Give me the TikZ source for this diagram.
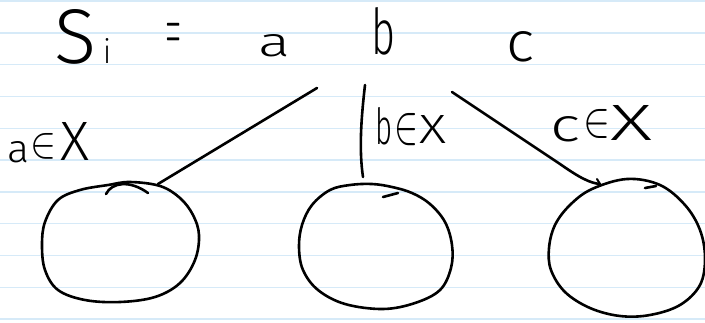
\documentclass[tikz,border=0pt]{standalone}
\usepackage{fontspec}
\newfontfamily\handfont{Fira Sans Light}
\definecolor{ruleblue}{RGB}{214,234,248}
\newcommand{\handch}[3]{\resizebox{#1pt}{#2pt}{\handfont #3}}
\tikzset{
  ink/.style={line width=2.6pt, line cap=round, line join=round, black},
  ruling/.style={ruleblue, line width=1.4pt},
  glyph/.style={anchor=south west, inner sep=0pt, outer sep=0pt},
  elem/.style={anchor=center, inner sep=0pt, outer sep=0pt}
}
\begin{document}
\begin{tikzpicture}[x=1pt,y=-1pt]
\fill[white] (0,0) rectangle (705,322);
\useasboundingbox (0,0) rectangle (705,322);
\foreach \k in {0,...,10} \draw[ruling] (0,{1+31.8*\k}) -- (705,{1+31.8*\k});

% top line  S_i = a b c
\node[glyph] (S) at (54,64) {\handch{42}{54}{S}};
\node[glyph] (i) at (103,63) {\handch{8}{25}{i}};
\node[anchor=base, inner sep=0pt] (eq) at (174,52.5) {\scalebox{0.24}[1]{\fontsize{82}{82}\selectfont =}};
\node[glyph] (ta) at (258,57) {\handch{32}{22}{a}};
\node[glyph] (tb) at (371,55) {\handch{24}{47}{b}};
\node[glyph] (tc) at (506,62) {\handch{28}{30}{c}};

% labels
\node[glyph] (la) at (8,163) {\handch{22}{21}{a}};
\node[elem] (lain) at (44,146) {\handch{26}{24}{$\in$}};
\node[glyph] (laX) at (60,160) {\handch{29}{38}{X}};
\node[glyph] (lb) at (375,145) {\handch{17}{37}{b}};
\node[elem] (lbin) at (406,130) {\handch{24}{30}{$\in$}};
\node[glyph] (lbX) at (419,143) {\handch{27}{28}{X}};
\node[glyph] (lc) at (550,142) {\handch{30}{25}{c}};
\node[elem] (lcin) at (597,124) {\handch{27}{27}{$\in$}};
\node[glyph] (lcX) at (610,140) {\handch{42}{35}{X}};

% circles
\draw[ink] plot[smooth cycle, tension=0.6] coordinates {
  (130,182) (160,186) (180,198) (193,215) (199,235) (195,260) (180,283)
  (155,297) (120,302) (85,300) (58,290) (45,270) (42,245) (45,222)
  (58,200) (80,190) (108,185)};
\draw[ink] (106,194) .. controls (112,182) and (130,180) .. (148,193);

\draw[ink] plot[smooth cycle, tension=0.6] coordinates {
  (350,185) (372,184) (392,187) (412,193) (430,204) (445,222) (452,245)
  (451,268) (440,290) (415,303) (383,309) (345,304) (318,290) (303,270)
  (299,247) (302,225) (312,205) (330,190)};
\draw[ink] (383,197) -- (398,193);

\draw[ink] plot[smooth cycle, tension=0.6] coordinates {
  (627,179) (660,185) (685,205) (700,230) (705,258) (700,285) (680,305)
  (650,315) (620,316) (590,308) (565,292) (551,270) (549,248) (555,225)
  (570,205) (592,189)};
\draw[ink] (645,188) -- (656,186);

% connectors
\coordinate (bL) at (317,88);
\coordinate (eL) at (158,184);
\draw[ink] (bL) -- (eL);
\coordinate (bM) at (365,85);
\coordinate (eM) at (363,177);
\draw[ink] (bM) .. controls (361,120) and (359,150) .. (eM);
\coordinate (bR) at (452,92);
\coordinate (kR) at (560,164);
\coordinate (eR) at (600,184);
\draw[ink] (bR) -- (kR) .. controls (580,178) and (590,183) .. (eR);
\coordinate (tR) at (597,179);
\draw[ink, line width=2pt] (tR) -- (eR);
\end{tikzpicture}
\end{document}
